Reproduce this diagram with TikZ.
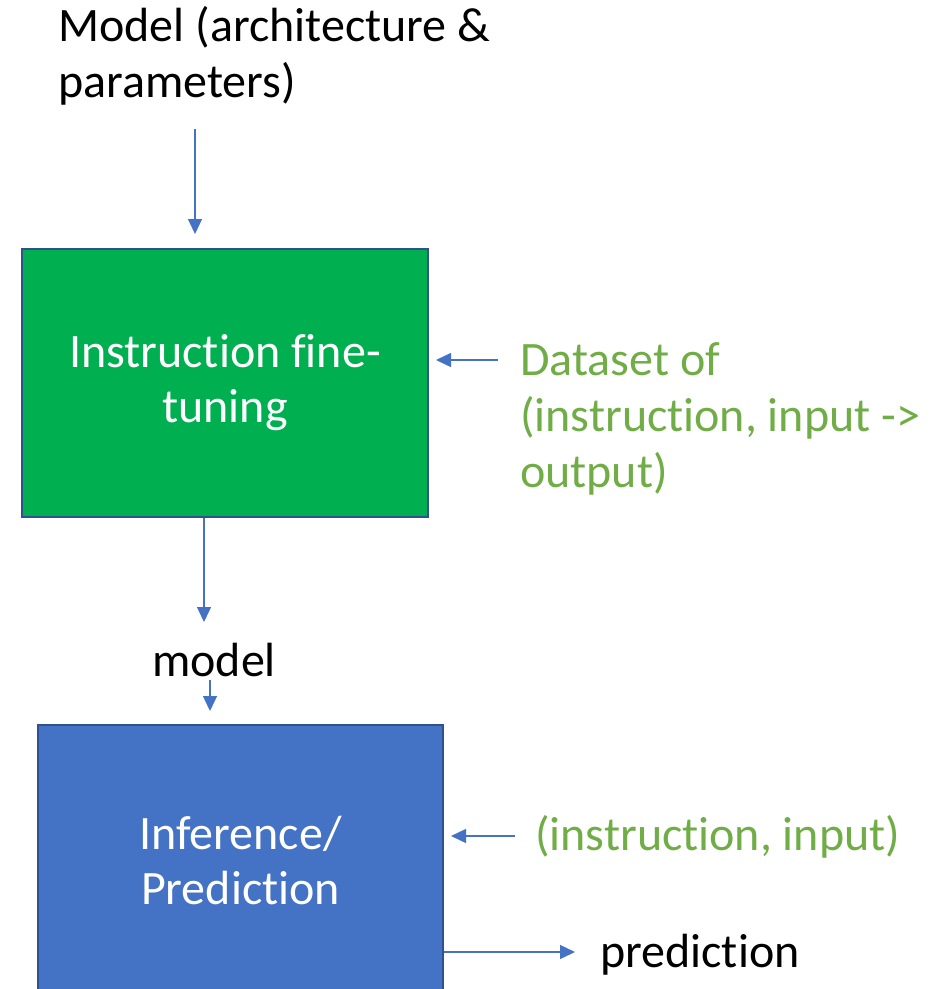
\documentclass[tikz,border=0pt]{standalone}
\usepackage{fontspec}
\setmainfont{Carlito}[Ligatures=NoCommon]
\usetikzlibrary{arrows.meta}
\definecolor{boxgreen}{HTML}{00B050}
\definecolor{boxblue}{HTML}{4472C4}
\definecolor{edgeblue}{HTML}{2F528F}
\definecolor{txtgreen}{HTML}{70AD47}
\begin{document}
\begin{tikzpicture}[x=1pt,y=-1pt,
  lbl/.style={font=\fontsize{48}{56}\selectfont, inner sep=0pt, align=left, anchor=base west},
  arr/.style={draw=boxblue, line width=1.3pt, -{Triangle[length=15pt,width=14pt]}},
  stage/.style={draw=edgeblue, line width=2pt, text=white, align=center,
    font=\fontsize{48}{55}\selectfont, inner sep=0pt}]
\clip (0,0) rectangle (944,989);

% labels (base anchor sits on the last line)
\node[lbl] (title) at (58,97) {Model (architecture \&\\parameters)};
\node[lbl, text=txtgreen] (data) at (520,487) {Dataset of\\(instruction, input ->\\output)};
\node[lbl] (model) at (152,676) {model};
\node[lbl, text=txtgreen] (query) at (535,850) {(instruction, input)};
\node[lbl] (pred) at (600,967) {prediction};

% stages
\node[stage, fill=boxgreen, minimum width=406, minimum height=268] (tune) at (225,383) {Instruction fine-\\tuning};
\node[stage, fill=boxblue, minimum width=405, minimum height=270] (infer) at (240.5,860) {Inference/\\Prediction};

% connector ends
\coordinate (t0) at (195,129);
\coordinate (m0) at (204,622);
\coordinate (m1) at (210,680);
\coordinate (d0) at (498,360);
\coordinate (q0) at (515,836);
\coordinate (p0) at (575,952);

% connectors
\draw[arr] (t0) -- ([xshift=-30pt,yshift=14pt]tune.north);
\draw[arr] (m0 |- tune.south) -- (m0);
\draw[arr] (m1) -- ([xshift=-30.5pt,yshift=13pt]infer.north);
\draw[arr, shorten >=7pt] (d0) -- (tune.east |- d0);
\draw[arr, shorten >=7pt] (q0) -- (infer.east |- q0);
\draw[arr] (infer.east |- p0) -- (p0);
\end{tikzpicture}
\end{document}
